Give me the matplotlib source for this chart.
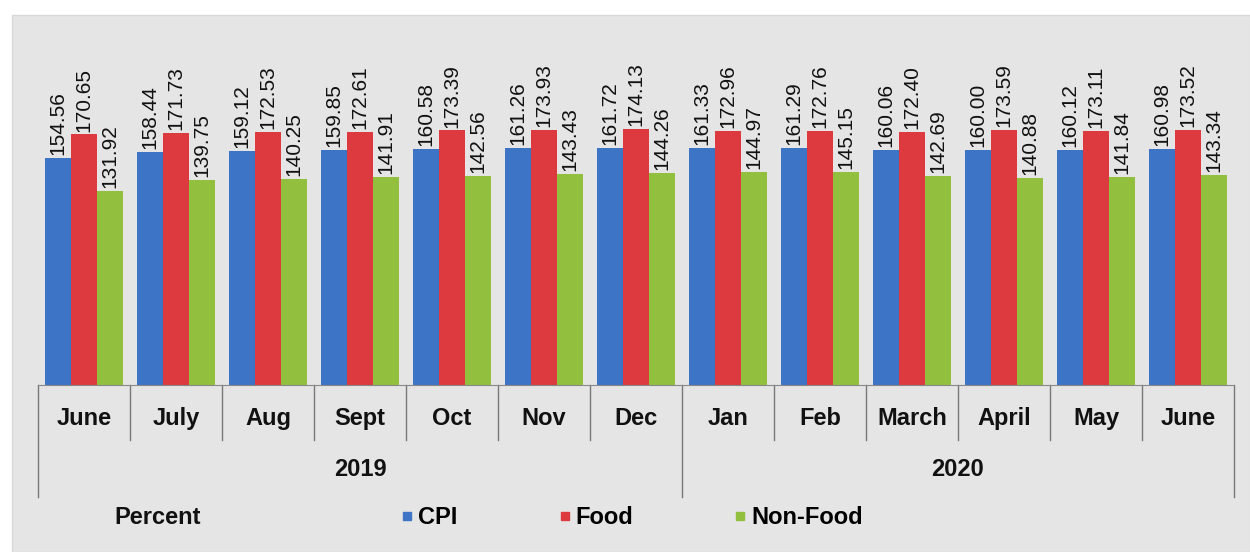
import matplotlib.pyplot as plt
import numpy as np
from matplotlib.lines import Line2D
from matplotlib.patches import Rectangle

# --- dados ---
meses = ["June", "July", "Aug", "Sept", "Oct", "Nov", "Dec",
         "Jan", "Feb", "March", "April", "May", "June"]
anos = ["2019", "2020"]
meses_por_ano = [7, 6]

cpi = [154.56, 158.44, 159.12, 159.85, 160.58, 161.26, 161.72,
       161.33, 161.29, 160.06, 160.00, 160.12, 160.98]
food = [170.65, 171.73, 172.53, 172.61, 173.39, 173.93, 174.13,
        172.96, 172.76, 172.40, 173.59, 173.11, 173.52]
non_food = [131.92, 139.75, 140.25, 141.91, 142.56, 143.43, 144.26,
            144.97, 145.15, 142.69, 140.88, 141.84, 143.34]

series = [("CPI", cpi, "#3d74c6"), ("Food", food, "#dc3a3e"), ("Non-Food", non_food, "#93bf3e")]

plt.rcParams['font.family'] = ['Liberation Sans', 'DejaVu Sans']

fig = plt.figure(figsize=(12.5, 5.52), dpi=100)
fig.patch.set_facecolor("white")
# painel cinza de fundo
fig.add_artist(Rectangle((12 / 1250, 0), 1 - 12 / 1250, 1 - 15 / 552,
                         transform=fig.transFigure, facecolor="#e5e5e5",
                         edgecolor="#d8d8d8", zorder=-5))

ax = fig.add_axes([38 / 1250, 1 - 385 / 552, (1234 - 38) / 1250, 345 / 552])
ax.set_facecolor("none")

x = np.arange(len(meses))
largura = 0.285
for i, (nome, valores, cor) in enumerate(series):
    pos = x + (i - 1) * largura
    ax.bar(pos, valores, width=largura, color=cor, label=nome, zorder=2)
    for px, v in zip(pos, valores):
        ax.text(px, v + 2, f"{v:.2f}", rotation=90, ha="center", va="bottom",
                fontsize=15, color="#111111")

ax.set_xlim(-0.5, len(meses) - 0.5)
ax.set_ylim(0, 235)
ax.set_yticks([])
for s in ["top", "right", "left"]:
    ax.spines[s].set_visible(False)
ax.spines["bottom"].set_color("#888888")
ax.set_xticks([])

tr = ax.get_xaxis_transform()
# rótulos dos meses e separadores
for i, m in enumerate(meses):
    ax.text(i, -0.096, m, transform=tr, ha="center", va="center",
            fontsize=17, fontweight="bold", color="#111111")
limites = np.cumsum([0] + meses_por_ano)
for b in range(len(meses) + 1):
    fundo = -0.325 if b in limites else -0.159
    ax.plot([b - 0.5, b - 0.5], [0, fundo], transform=tr, color="#777777",
            lw=1, clip_on=False)

# rótulos dos anos
for a, ini, n in zip(anos, limites[:-1], meses_por_ano):
    ax.text(ini + (n - 1) / 2, -0.246, a, transform=tr, ha="center", va="center",
            fontsize=17, fontweight="bold", color="#111111")

# legenda
fig.text(158 / 1250, 1 - 518 / 552, "Percent", ha="center", va="center",
         fontsize=17, fontweight="bold", color="#111111")
handles = [Line2D([], [], marker="s", linestyle="none", markersize=6,
                  markerfacecolor=c, markeredgecolor=c) for _, _, c in series]
fig.legend(handles, [n for n, _, _ in series], loc="center left",
           bbox_to_anchor=(380 / 1250, 1 - 518 / 552), ncol=3, frameon=False,
           handlelength=0.5, handletextpad=0.2, columnspacing=4.3,
           prop={"size": 17, "weight": "bold"})

fig.savefig("out.png", dpi=100)
